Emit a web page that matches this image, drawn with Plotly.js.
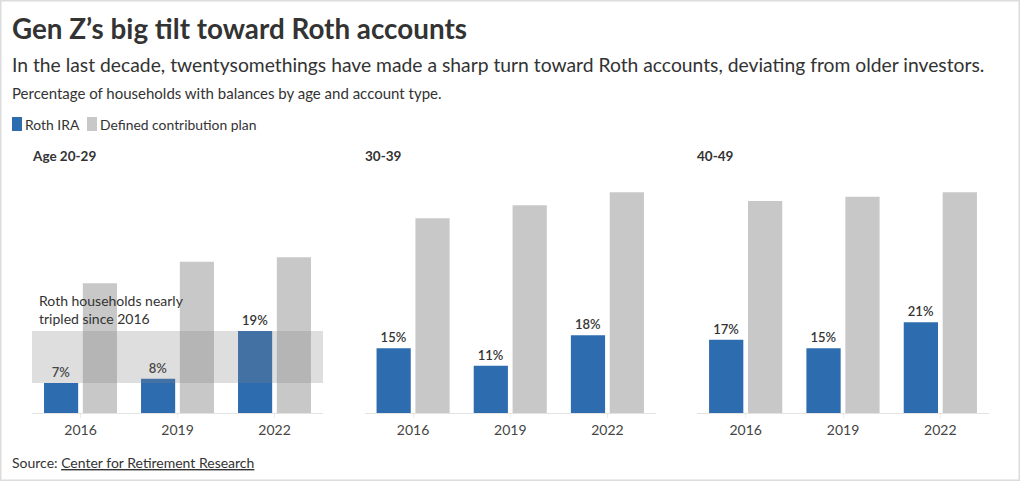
<!DOCTYPE html>
<html><head><meta charset="utf-8">
<script src="https://cdn.plot.ly/plotly-3.0.1.min.js"></script>
<style>html,body{margin:0;padding:0;background:#fff}#chart{width:1020px;height:481px}</style>
</head><body><div id="chart"></div>
<script>
// ---- data ----
const years = ['2016', '2019', '2022'];
const panelTitles = ['Age 20-29', '30-39', '40-49'];
const seriesNames = ['Roth IRA', 'Defined contribution plan'];
const rothAge20 = [7, 8, 19];
const rothAge30 = [15, 11, 18];
const rothAge40 = [17, 15, 21];
const dcAge20 = [30, 35, 36];
const dcAge30 = [45, 48, 51];
const dcAge40 = [49, 50, 51];
const titleText = 'Gen Z\u2019s big tilt toward Roth accounts';
const subtitleText = 'In the last decade, twentysomethings have made a sharp turn toward Roth accounts, deviating from older investors.';
const captionText = 'Percentage of households with balances by age and account type.';
const noteText = 'Roth households nearly<br>tripled since 2016';
const sourceLabel = 'Source: ';
const sourceName = 'Center for Retirement Research';

// ---- layout helpers ----
const W = 1020, H = 481;
const px = x => x / W;
const py = y => 1 - y / H;
const FONT = 'Lato, "Open Sans", sans-serif';
const BLUE = '#2e6cb0', GRAY = '#c8c8c8', TXT = '#333333';

const rothSets = [rothAge20, rothAge30, rothAge40];
const dcSets = [dcAge20, dcAge30, dcAge40];
const domains = [[px(32), px(323)], [px(364.5), px(656)], [px(697), px(989)]];
const yDomain = [py(413.3), py(175)];

const traces = [];
const layout = {
  width: W, height: H,
  margin: {l: 0, r: 0, t: 0, b: 0},
  paper_bgcolor: '#fff', plot_bgcolor: 'rgba(0,0,0,0)',
  showlegend: false,
  barmode: 'group', bargap: 0.2, bargroupgap: 0.12,
  font: {family: FONT, color: TXT},
  shapes: [], annotations: []
};

for (let i = 0; i < 3; i++) {
  const xa = 'x' + (i === 0 ? '' : i + 1);
  const ya = 'y' + (i === 0 ? '' : i + 1);
  traces.push({
    type: 'bar', name: seriesNames[0], x: years, y: rothSets[i],
    xaxis: xa, yaxis: ya,
    marker: {color: BLUE},
    text: rothSets[i].map(v => v + '%'),
    textposition: 'outside', cliponaxis: false, constraintext: 'none',
    textfont: {family: FONT, size: 13, color: TXT, weight: 600},
    hoverinfo: 'none'
  });
  traces.push({
    type: 'bar', name: seriesNames[1], x: years, y: dcSets[i],
    xaxis: xa, yaxis: ya,
    marker: {color: GRAY},
    hoverinfo: 'none'
  });
  const xk = 'xaxis' + (i === 0 ? '' : i + 1);
  const yk = 'yaxis' + (i === 0 ? '' : i + 1);
  layout[xk] = {
    domain: domains[i], anchor: ya, type: 'category',
    showline: true, linecolor: '#e3e3e3', linewidth: 1,
    ticks: 'outside', ticklen: 4, tickcolor: '#ececec',
    tickfont: {family: FONT, size: 14, color: '#444'},
    showgrid: false, zeroline: false, fixedrange: true
  };
  layout[yk] = {
    domain: yDomain, anchor: xa, range: [0, 55],
    visible: false, showgrid: false, zeroline: false, fixedrange: true
  };
  layout.annotations.push({
    xref: 'paper', yref: 'paper', x: domains[i][0] - px(2), y: py(155.5),
    xanchor: 'left', yanchor: 'middle', showarrow: false,
    text: '<b>' + panelTitles[i] + '</b>',
    font: {family: FONT, size: 13.5, color: TXT}
  });
}

// highlight band on first panel spanning Roth 2016 -> 2022
layout.shapes.push({
  type: 'rect', xref: 'x domain', yref: 'y', x0: 0, x1: 1,
  y0: rothAge20[0], y1: rothAge20[2],
  fillcolor: 'rgba(129,129,129,0.26)', line: {width: 0}, layer: 'above'
});
layout.annotations.push({
  xref: 'paper', yref: 'paper', x: px(37), y: py(309.5),
  xanchor: 'left', yanchor: 'middle', align: 'left', showarrow: false,
  text: noteText, font: {family: FONT, size: 14, color: TXT}
});

// frame
layout.shapes.push({
  type: 'rect', xref: 'paper', yref: 'paper', x0: px(0.75), x1: px(1019.25), y0: py(480.25), y1: py(0.75),
  line: {color: '#dcdcdc', width: 1.5}, fillcolor: 'rgba(0,0,0,0)', layer: 'below'
});

// header
layout.annotations.push({
  xref: 'paper', yref: 'paper', x: px(10), y: py(28),
  xanchor: 'left', yanchor: 'middle', showarrow: false,
  text: '<b>' + titleText + '</b>', font: {family: FONT, size: 27.8, color: TXT}
});
layout.annotations.push({
  xref: 'paper', yref: 'paper', x: px(10), y: py(65),
  xanchor: 'left', yanchor: 'middle', showarrow: false,
  text: subtitleText, font: {family: FONT, size: 19.3, color: TXT}
});
layout.annotations.push({
  xref: 'paper', yref: 'paper', x: px(10), y: py(93),
  xanchor: 'left', yanchor: 'middle', showarrow: false,
  text: captionText, font: {family: FONT, size: 15, color: TXT}
});

// legend (custom, from series names)
const legendSw = [[12, 22, BLUE], [87, 97, GRAY]];
legendSw.forEach((s, k) => {
  layout.shapes.push({
    type: 'rect', xref: 'paper', yref: 'paper', x0: px(s[0]), x1: px(s[1]), y0: py(131), y1: py(117),
    fillcolor: s[2], line: {width: 0}
  });
  layout.annotations.push({
    xref: 'paper', yref: 'paper', x: px(s[1] + 1), y: py(124.5),
    xanchor: 'left', yanchor: 'middle', showarrow: false,
    text: seriesNames[k], font: {family: FONT, size: 13.9, color: TXT}
  });
});

// source
layout.annotations.push({
  xref: 'paper', yref: 'paper', x: px(10), y: py(462),
  xanchor: 'left', yanchor: 'middle', showarrow: false,
  text: sourceLabel + '<span style="text-decoration:underline">' + sourceName + '</span>',
  font: {family: FONT, size: 14, color: TXT}
});

Plotly.newPlot('chart', traces, layout, {displayModeBar: false, staticPlot: true});
</script>
</body></html>
